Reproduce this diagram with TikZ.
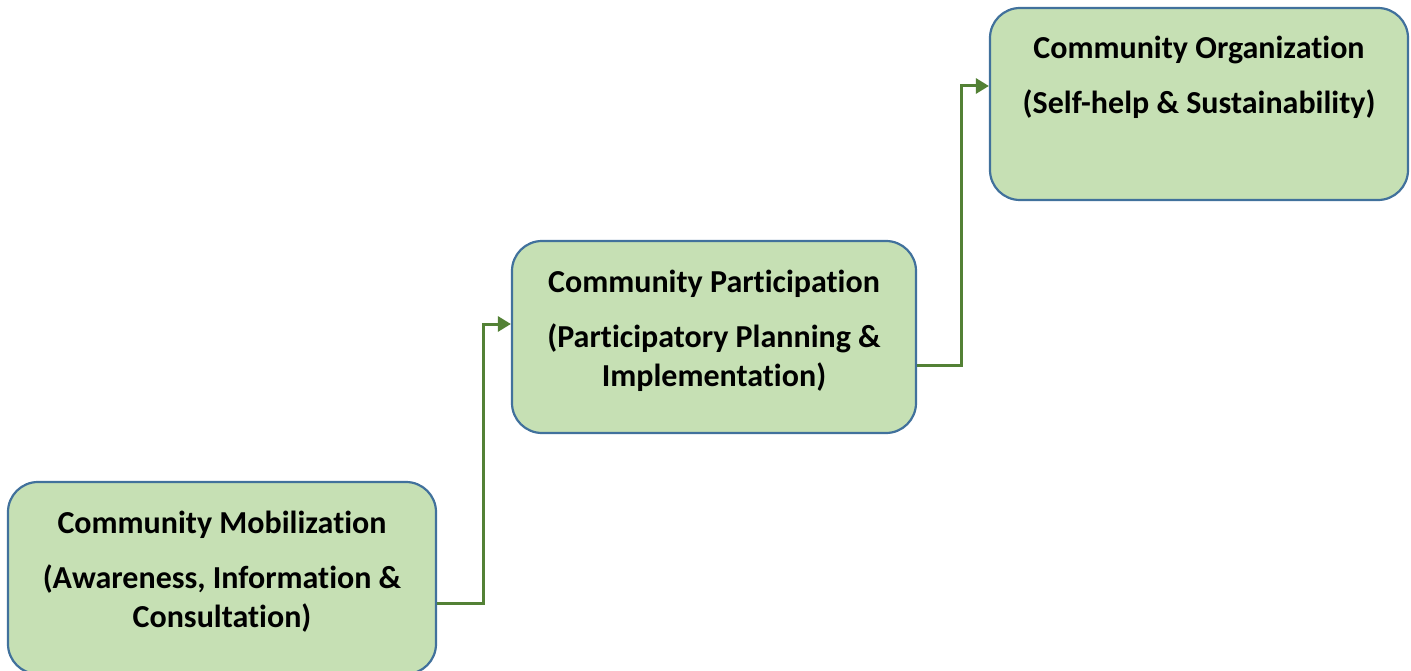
\documentclass[tikz,border=0pt]{standalone}
\usepackage{fontspec}
\setmainfont{Carlito}[RawFeature={-liga}]
\usetikzlibrary{arrows.meta,calc}
\definecolor{boxfill}{HTML}{C6E0B4}
\definecolor{boxline}{HTML}{41719C}
\definecolor{arrowgreen}{HTML}{538135}
\tikzset{
  stage/.style={draw=boxline, fill=boxfill, line width=2.2pt, rounded corners=30pt, inner sep=0pt},
  txt/.style={font=\fontsize{32}{38}\selectfont\bfseries, inner sep=0pt, anchor=base},
  link/.style={draw=arrowgreen, line width=3pt, -{Triangle[length=13pt,width=15pt]}}
}
\begin{document}
\begin{tikzpicture}[x=1pt,y=-1pt]
\useasboundingbox (0,0) rectangle (1411,671);
\node[stage, minimum width=428pt, minimum height=192pt] (b1) at (222,578) {};
\node[stage, minimum width=404pt, minimum height=192pt] (b2) at (714,337) {};
\node[stage, minimum width=418pt, minimum height=192pt] (b3) at (1199,104) {};
\node[txt] (t1) at (222,533) {Community Mobilization};
\node[txt] (s1a) at (222,588) {(Awareness, Information \&};
\node[txt] (s1b) at (222,627) {Consultation)};
\node[txt] (t2) at (714,292) {Community Participation};
\node[txt] (s2a) at (714,347) {(Participatory Planning \&};
\node[txt] (s2b) at (714,386) {Implementation)};
\node[txt] (t3) at (1199,59) {Community Organization};
\node[txt] (s3) at (1199,114) {(Self-help \& Sustainability)};
\coordinate (c1) at (483,0);
\coordinate (c2) at (961,0);
\draw[link] ($(b1.east)+(0,25)$) -| (c1 |- 0,324) -- (b2.west |- 0,324);
\draw[link] ($(b2.east)+(0,28)$) -| (c2 |- 0,86) -- (b3.west |- 0,86);
\end{tikzpicture}
\end{document}
